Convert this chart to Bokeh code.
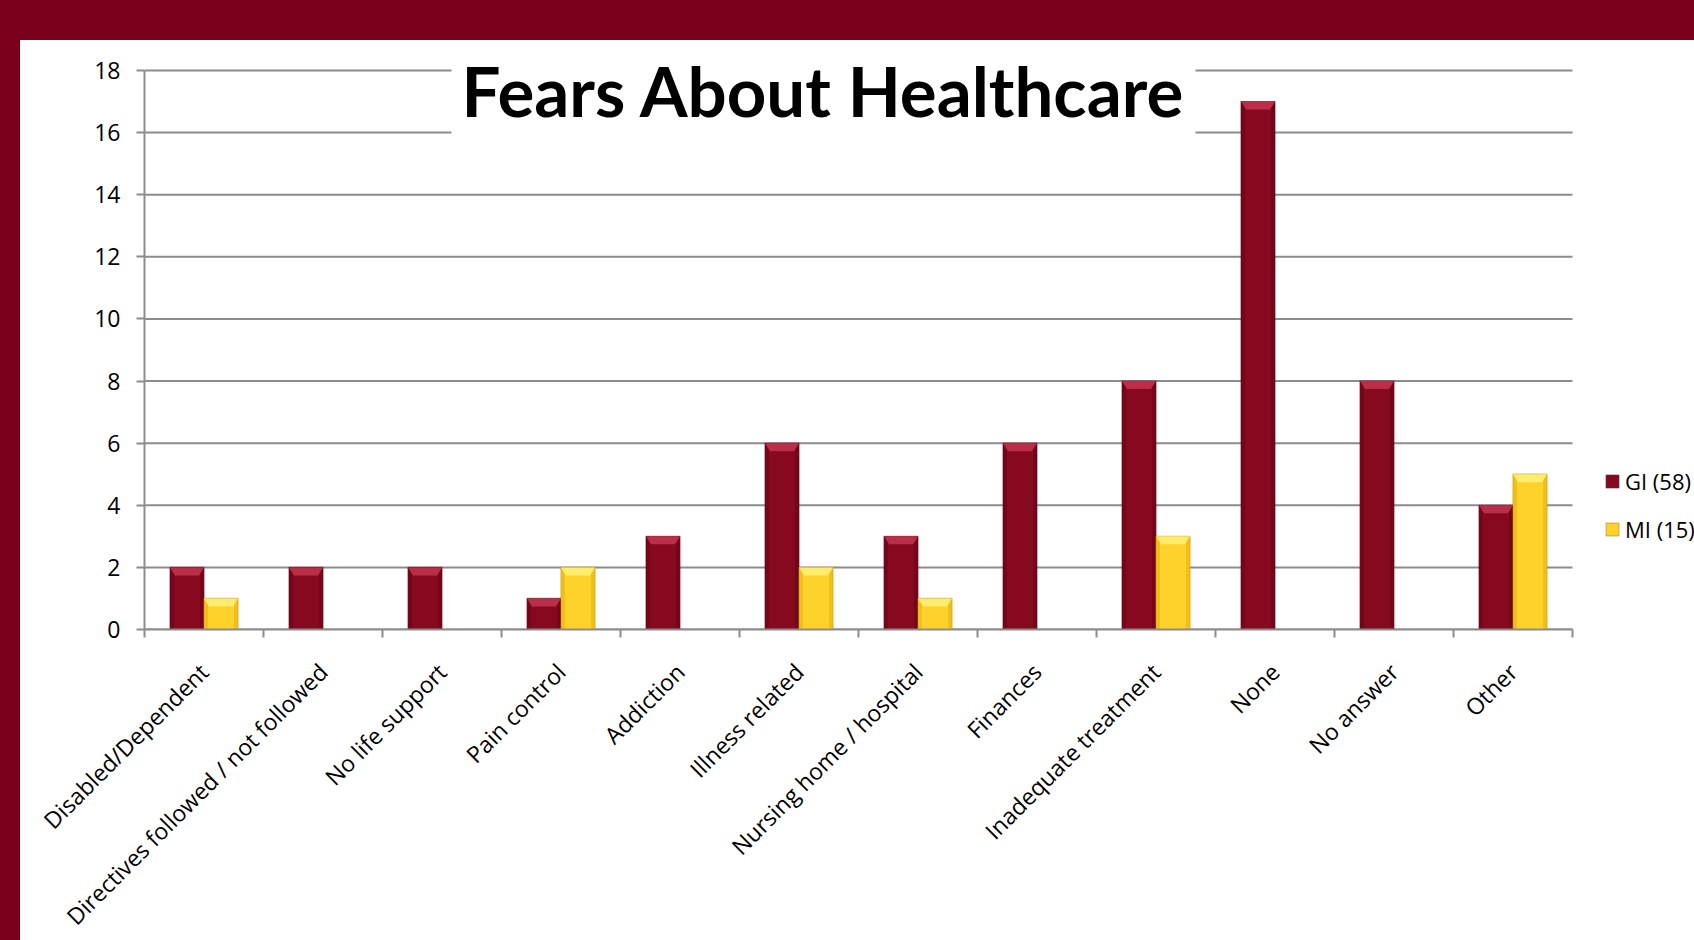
from bokeh.plotting import figure
from bokeh.models import Range1d, FixedTicker, Label, Legend, LegendItem, Div, ColumnDataSource
from bokeh.layouts import column, row
from bokeh.embed import file_html
from bokeh.resources import INLINE

# ---------------- data ----------------
categories = [
    "Disabled/Dependent", "Directives followed / not followed", "No life support",
    "Pain control", "Addiction", "Illness related", "Nursing home / hospital",
    "Finances", "Inadequate treatment", "None", "No answer", "Other",
]
gi_values = [2, 2, 2, 1, 3, 6, 3, 6, 8, 17, 8, 4]
mi_values = [1, 0, 0, 2, 0, 2, 1, 0, 3, 0, 0, 5]
series_names = ["GI (58)", "MI (15)"]
y_ticks = [0, 2, 4, 6, 8, 10, 12, 14, 16, 18]
title_text = "Fears About Healthcare"

# ---------------- layout constants ----------------
W, H = 1694, 940
BAND_TOP, BAND_LEFT = 40, 20
FIG_W = W - BAND_LEFT
FRAME_L = 124
PLOT_PX_W = 1428                # px width of the category area
PLOT_PX_H = 559                 # px height of 0..18
BASE_Y = 629                    # window y of value 0
FRAME_PX_W = FIG_W - FRAME_L    # frame runs to the right edge (legend lives there)
FRAME_PX_H = BASE_Y - BAND_TOP  # frame runs up to the top band (title lives there)

MAROON_BAND = "#7b0019"
GRID = "#8c8c8c"
FONT = "Open Sans"

n = len(categories)
ymax = y_ticks[-1]
px_x = n / PLOT_PX_W
px_y = ymax / PLOT_PX_H

p = figure(frame_width=FRAME_PX_W, frame_height=FRAME_PX_H,
           x_range=Range1d(0, FRAME_PX_W * px_x), y_range=Range1d(0, FRAME_PX_H * px_y),
           output_backend="svg", toolbar_location=None,
           min_border_left=FRAME_L, min_border_right=0, min_border_top=0)
p.title.visible = False
p.outline_line_color = None
p.background_fill_color = "white"
p.border_fill_color = "white"

# horizontal gridlines over the category area only
p.segment(x0=[0] * len(y_ticks), x1=[n] * len(y_ticks), y0=y_ticks, y1=y_ticks,
          line_color=GRID, line_width=2, level="underlay")

centers = [i + 0.5 for i in range(n)]
half_w = 34 * px_x  # bar width in data units

styles = [
    dict(main="#860920", top="#c3364f", side="#6c0418", edge="#5a0010"),
    dict(main="#ffd12b", top="#fff27a", side="#e9b20f", edge="#b88a00"),
]

renderers = []
for s, vals in enumerate([gi_values, mi_values]):
    st = styles[s]
    off = -half_w / 2 if s == 0 else half_w / 2
    xs = [c + off for c, v in zip(centers, vals) if v > 0]
    tops = [v for v in vals if v > 0]
    src = ColumnDataSource(dict(x=xs, top=tops))
    r = p.vbar(x="x", top="top", bottom=0, width=half_w, source=src,
               fill_color=st["main"], line_color=st["edge"], line_alpha=0.55, line_width=1.2)
    renderers.append(r)
    # side shading
    sw = 4 * px_x
    p.quad(left=[x - half_w / 2 for x in xs], right=[x - half_w / 2 + sw for x in xs],
           bottom=[0] * len(xs), top=tops, fill_color=st["side"], fill_alpha=0.6, line_color=None)
    p.quad(left=[x + half_w / 2 - sw for x in xs], right=[x + half_w / 2 for x in xs],
           bottom=[0] * len(xs), top=tops, fill_color=st["side"], fill_alpha=0.6, line_color=None)
    # top bevel
    bh = 8 * px_y
    bx = 5 * px_x
    pxs, pys = [], []
    for x, t in zip(xs, tops):
        l, rr = x - half_w / 2, x + half_w / 2
        pxs.append([l, rr, rr - bx, l + bx])
        pys.append([t, t, t - bh, t - bh])
    p.patches(xs=pxs, ys=pys, fill_color=st["top"], fill_alpha=0.85, line_color=None)

# ---------------- axes ----------------
xax = p.xaxis[0]
xax.bounds = (0, n)
xax.ticker = FixedTicker(ticks=centers, minor_ticks=list(range(n + 1)))
xax.major_label_overrides = {c: lab for c, lab in zip(centers, categories)}
xax.major_label_orientation = 0.7853981634
xax.major_tick_out = 0
xax.major_tick_in = 0
xax.minor_tick_out = 8
xax.minor_tick_in = 0
xax.minor_tick_line_color = GRID
xax.minor_tick_line_width = 2
xax.axis_line_color = GRID
xax.axis_line_width = 2
xax.major_label_text_font = FONT
xax.major_label_text_font_size = "23px"
xax.major_label_text_color = "black"
xax.major_label_standoff = 30

yax = p.yaxis[0]
yax.bounds = (0, ymax)
yax.ticker = FixedTicker(ticks=y_ticks)
yax.major_tick_out = 8
yax.major_tick_in = 0
yax.minor_tick_line_color = None
yax.major_tick_line_color = GRID
yax.major_tick_line_width = 2
yax.axis_line_color = GRID
yax.axis_line_width = 2
yax.major_label_text_font = FONT
yax.major_label_text_font_size = "23px"
yax.major_label_text_color = "black"
yax.major_label_standoff = 16

p.xgrid.visible = False
p.ygrid.visible = False

# ---------------- title ----------------
title = Label(x=(823 - 144) * px_x, y=(BASE_Y - 90) * px_y, text=title_text,
              text_font="Lato", text_font_style="bold", text_font_size="69px",
              text_color="black", text_align="center", text_baseline="alphabetic",
              background_fill_color="white", padding=10, level="overlay")
p.add_layout(title)

# ---------------- legend (inside the wide frame, right of the bars) ----------------
legend = Legend(items=[LegendItem(label=series_names[0], renderers=[renderers[0]]),
                       LegendItem(label=series_names[1], renderers=[renderers[1]])],
                location=(1460, 85), orientation="vertical",
                padding=0, margin=0, spacing=18, glyph_width=16, glyph_height=16,
                label_standoff=5, label_text_font=FONT, label_text_font_size="22px",
                label_text_color="black", border_line_color=None, background_fill_alpha=0)
p.add_layout(legend)

# ---------------- frame bands ----------------
top_band = Div(width=W, height=BAND_TOP, styles={"background-color": MAROON_BAND}, margin=0)
left_band = Div(width=BAND_LEFT, height=H - BAND_TOP, styles={"background-color": MAROON_BAND}, margin=0)
layout = column(top_band, row(left_band, p, spacing=0), spacing=0)

open("out.html", "w").write(file_html(layout, INLINE))
